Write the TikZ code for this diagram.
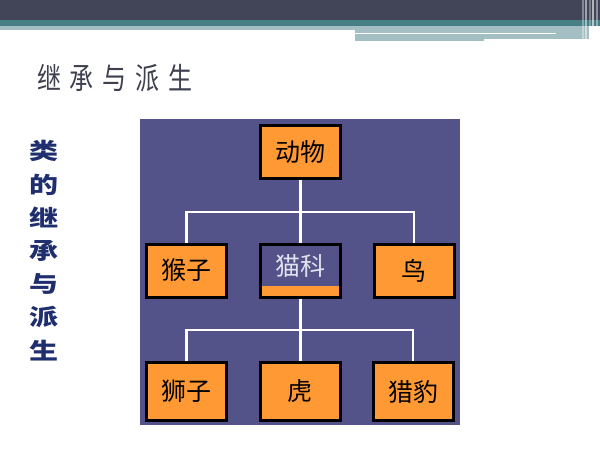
\documentclass[tikz,border=0pt]{standalone}
\usepackage{fontspec}
\setmainfont{Noto Sans CJK SC}
\newfontfamily\cjk{Noto Sans CJK SC}
\definecolor{topbar}{HTML}{424457}
\definecolor{tealband}{HTML}{467F85}
\definecolor{lightband}{HTML}{A3BFC3}
\definecolor{panel}{HTML}{545389}
\definecolor{boxorange}{HTML}{FF9933}
\definecolor{navytext}{HTML}{1F2E6E}
\definecolor{titlegray}{HTML}{3E3F4F}
\definecolor{pale}{HTML}{E2E2EE}
\tikzset{
  animal/.style={draw=black, line width=3pt, fill=boxorange, minimum width=80pt, inner sep=0pt,
    font=\cjk\fontsize{25}{25}\selectfont, text=black},
  toprow/.style={animal, minimum height=53pt},
  botrow/.style={animal, minimum height=58pt},
  wire/.style={draw=white, line width=2.4pt}
}
\begin{document}
\begin{tikzpicture}[x=1pt,y=-1pt]
\useasboundingbox (0,0) rectangle (600,450);
\fill[white] (0,0) rectangle (600,450);
% header decoration
\fill[topbar] (0,0) rectangle (600,20);
\fill[tealband] (0,20) rectangle (600,26);
\fill[lightband] (0,26) rectangle (355,30);
\fill[lightband] (355,26) rectangle (589,39);
\fill[lightband] (355,39) rectangle (484,41);
\fill[white] (355,32.8) rectangle (556,34);
\foreach \xx/\op in {582/0.35,585/0.5,589/0.3,592/0.6,596/0.4}
  \fill[white, opacity=\op] (\xx,0) rectangle ++(1.6,40);
% title
\node[anchor=west, inner sep=0pt, text=titlegray, font=\cjk\fontsize{30}{30}\selectfont, xscale=0.8, transform shape]
  (title) at (37,78) {继\hspace{11pt}承\hspace{11pt}与\hspace{11pt}派\hspace{11pt}生};
% left vertical text
\foreach \ch [count=\i] in {类,的,继,承,与,派,生}
  \node[inner sep=0pt, text=navytext, font=\cjk\bfseries\fontsize{29}{29}\selectfont, yscale=0.78, transform shape]
    (side\i) at (44,118+33.2*\i) {\ch};
% panel
\fill[panel] (140,119) rectangle (460,425);
% nodes
\node[toprow] (dw) at (300.5,151.5) {动物};
\node[toprow] (hz) at (186.5,270.5) {猴子};
\node[toprow] (mk) at (300.5,270.5) {};
\node[fill=panel, minimum width=77pt, minimum height=40pt, inner sep=0pt, text=pale,
  font=\cjk\fontsize{25}{25}\selectfont] (mkt) at (300.5,266) {猫科};
\node[toprow] (niao) at (414,270.5) {鸟};
\node[botrow] (sz) at (186.5,391.5) {狮子};
\node[botrow] (hu) at (300,391.5) {虎};
\node[botrow] (lb) at (413,391.5) {猎豹};
% connectors
\coordinate (j1) at (300.5,212);
\coordinate (j2) at (300.5,330);
\draw[wire] (dw.south) -- (mk.north);
\draw[wire] (hz.north) |- (j1) -| (niao.north);
\draw[wire] (mk.south) -- (mk.south |- hu.north);
\draw[wire] (sz.north) |- (j2) -| (lb.north);
\end{tikzpicture}
\end{document}
